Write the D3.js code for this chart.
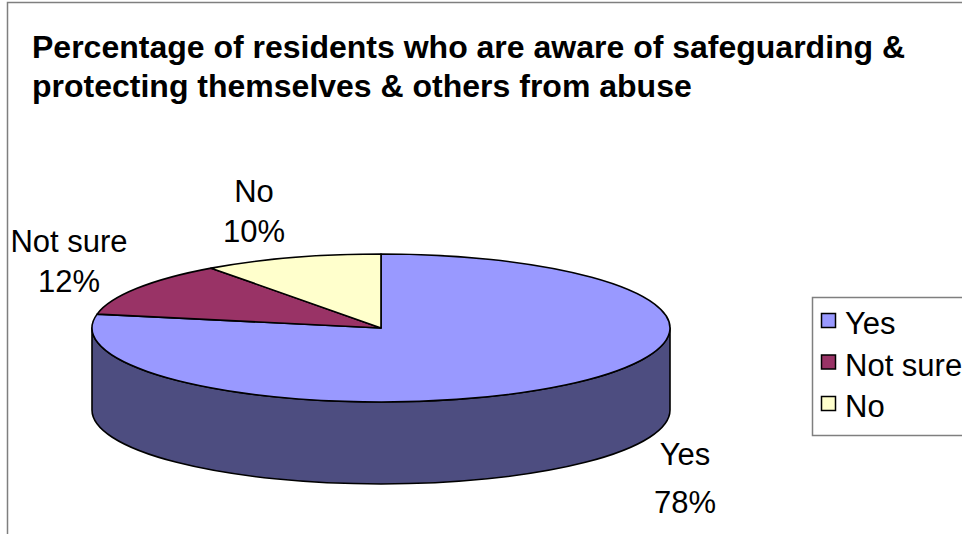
<!DOCTYPE html>
<html>
<head>
<meta charset="utf-8">
<script src="https://cdn.jsdelivr.net/npm/d3@7"></script>
<style>
  html, body { margin: 0; padding: 0; background: #fff; }
  svg { display: block; font-family: Arial, "Liberation Sans", Helvetica, sans-serif; }
</style>
</head>
<body>
<svg id="chart" width="962" height="534"></svg>
<script>
// Survey answers
const categories = ["Yes", "Not sure", "No"];
const values = [78, 12, 10];
const labelTexts = ["78%", "12%", "10%"];
const topColors = ["#9999FF", "#993366", "#FFFFCC"];
const sideColors = ["#4D4D80", "#4D1A33", "#808066"];
const titleLines = [
  "Percentage of residents who are aware of safeguarding &",
  "protecting themselves & others from abuse"
];

const svg = d3.select("#chart");

// outer chart frame (runs off the right and bottom edges)
svg.append("rect")
  .attr("x", 7.5).attr("y", 2.5)
  .attr("width", 1200).attr("height", 1200)
  .attr("fill", "#fff").attr("stroke", "#7f7f7f").attr("stroke-width", 1.5);

// title
svg.append("g").selectAll("text").data(titleLines).join("text")
  .attr("x", 32)
  .attr("y", (d, i) => 58 + i * 38.5)
  .attr("font-size", 32)
  .attr("font-weight", "bold")
  .attr("fill", "#000")
  .text(d => d);

// 3D pie geometry
const cx = 381, cy = 328, rx = 289, ry = 74, depth = 82;
const color = d3.scaleOrdinal().domain(categories).range(topColors);
const sideColor = d3.scaleOrdinal().domain(categories).range(sideColors);

const pie = d3.pie().sort(null).value(d => d.value).startAngle(0).endAngle(2 * Math.PI);
const rows = categories.map((c, i) => ({ name: c, value: values[i], label: labelTexts[i] }));
const arcs = pie(rows);

// project an angle (clockwise from 12 o'clock) onto the tilted ellipse
const px = a => cx + rx * Math.sin(a);
const py = (a, dy = 0) => cy - ry * Math.cos(a) + dy;

const pieG = svg.append("g");

// visible outer wall: front half of the ellipse, angles between PI/2 and 3PI/2
const sideG = pieG.append("g");
arcs.forEach(a => {
  const s = Math.max(a.startAngle, Math.PI / 2);
  const e = Math.min(a.endAngle, 3 * Math.PI / 2);
  if (e <= s) return;
  const large = (e - s) > Math.PI ? 1 : 0;
  const path =
    `M${px(s)},${py(s)}` +
    `A${rx},${ry} 0 ${large} 1 ${px(e)},${py(e)}` +
    `L${px(e)},${py(e, depth)}` +
    `A${rx},${ry} 0 ${large} 0 ${px(s)},${py(s, depth)}Z`;
  sideG.append("path")
    .attr("d", path)
    .attr("fill", sideColor(a.data.name))
    .attr("stroke", "#000")
    .attr("stroke-width", 1.6)
    .attr("stroke-linejoin", "round");
});

// top faces: circular d3.arc squashed into an ellipse
const arcGen = d3.arc().innerRadius(0).outerRadius(rx);
pieG.append("g")
  .attr("transform", `translate(${cx},${cy}) scale(1,${ry / rx})`)
  .selectAll("path").data(arcs).join("path")
  .attr("d", arcGen)
  .attr("fill", d => color(d.data.name))
  .attr("stroke", "#000")
  .attr("stroke-width", 1.6)
  .attr("stroke-linejoin", "round")
  .attr("vector-effect", "non-scaling-stroke");

// data labels: category name over percentage
const labelPos = {
  "Yes": { x: 685, y: 465, gap: 48 },
  "Not sure": { x: 69, y: 252, gap: 40 },
  "No": { x: 254, y: 202, gap: 40 }
};
const lblG = svg.append("g");
arcs.forEach(a => {
  const pos = labelPos[a.data.name];
  const t = lblG.append("text")
    .attr("text-anchor", "middle")
    .attr("font-size", 31)
    .attr("fill", "#000");
  t.append("tspan").attr("x", pos.x).attr("y", pos.y).text(a.data.name);
  t.append("tspan").attr("x", pos.x).attr("y", pos.y + pos.gap).text(a.data.label);
});

// legend box (runs off the right edge)
const lg = svg.append("g");
lg.append("rect")
  .attr("x", 812.5).attr("y", 297.5)
  .attr("width", 300).attr("height", 138)
  .attr("fill", "#fff").attr("stroke", "#7f7f7f").attr("stroke-width", 1.5);

const item = lg.selectAll("g.item").data(categories).join("g")
  .attr("class", "item")
  .attr("transform", (d, i) => `translate(0,${320.5 + i * 41.5})`);
item.append("rect")
  .attr("x", 821.5).attr("y", -7)
  .attr("width", 14).attr("height", 14)
  .attr("fill", d => color(d))
  .attr("stroke", "#000").attr("stroke-width", 1.5);
item.append("text")
  .attr("x", 845).attr("y", 13.5)
  .attr("font-size", 31)
  .attr("fill", "#000")
  .text(d => d);
</script>
</body>
</html>
